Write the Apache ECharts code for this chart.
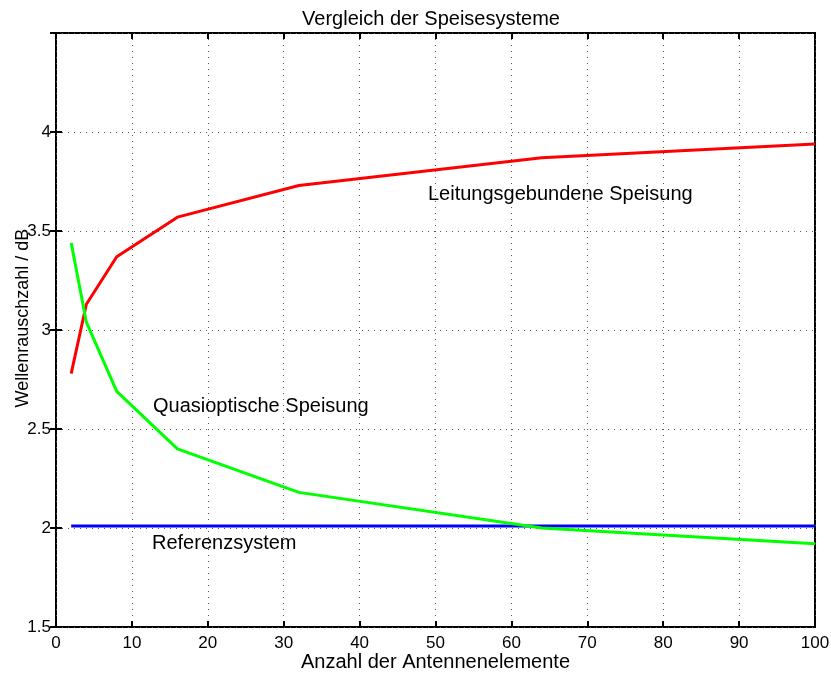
<!DOCTYPE html>
<html><head><meta charset="utf-8">
<script src="https://cdn.jsdelivr.net/npm/echarts@6/dist/echarts.min.js"></script>
<style>html,body{margin:0;padding:0;background:#fff}#c{width:831px;height:673px}</style>
</head><body><div id="c"></div>
<script>
const xValues = [2, 4, 8, 16, 32, 64, 100];
const leitung = [2.78, 3.13, 3.37, 3.57, 3.73, 3.87, 3.94];
const quasi = [3.44, 3.04, 2.69, 2.40, 2.18, 2.00, 1.92];
const referenz = [2.01, 2.01, 2.01, 2.01, 2.01, 2.01, 2.01];
const titleText = 'Vergleich der Speisesysteme';
const xName = 'Anzahl der Antennenelemente';
const yName = 'Wellenrauschzahl / dB';
const labels = ['Leitungsgebundene Speisung', 'Quasioptische Speisung', 'Referenzsystem'];

const pairs = a => xValues.map((x, i) => [x, a[i]]);
const font = 'Liberation Sans, Arial, sans-serif';
const chart = echarts.init(document.getElementById('c'));
const gridLine = {show: true, lineStyle: {color: '#555', type: [1, 5], width: 1}};
const tick = {show: true, inside: true, length: 6, lineStyle: {color: '#000', width: 2}};
chart.setOption({
  animation: false,
  title: {text: titleText, left: 426, top: 4, textAlign: 'center',
    textStyle: {fontFamily: font, fontSize: 20, fontWeight: 'normal', color: '#000'}},
  grid: {left: 56, right: 16, top: 33, bottom: 46, show: true, borderColor: '#000', borderWidth: 2,
    outerBoundsMode: 'none', containLabel: false},
  xAxis: [{
    type: 'value', min: 0, max: 100, interval: 10,
    axisLine: {show: false}, axisTick: tick,
    axisLabel: {fontFamily: font, fontSize: 17, color: '#000', margin: 8},
    splitLine: gridLine,
    name: xName, nameLocation: 'middle', nameGap: 25, nameMoveOverlap: false,
    nameTextStyle: {fontFamily: font, fontSize: 20, color: '#000'}
  }, {
    type: 'value', min: 0, max: 100, interval: 10, position: 'top',
    axisLine: {show: false}, axisTick: tick,
    axisLabel: {show: false}, splitLine: {show: false}
  }],
  yAxis: [{
    type: 'value', min: 1.5, max: 4.5, interval: 0.5,
    axisLine: {show: false}, axisTick: tick,
    axisLabel: {fontFamily: font, fontSize: 17, color: '#000', margin: 5, showMaxLabel: false},
    splitLine: gridLine,
    name: yName, nameLocation: 'middle', nameGap: 24, nameRotate: 90, nameMoveOverlap: false,
    nameTextStyle: {fontFamily: font, fontSize: 18, color: '#000', padding: [0, 0, 0, 24]}
  }, {
    type: 'value', min: 1.5, max: 4.5, interval: 0.5, position: 'right',
    axisLine: {show: false}, axisTick: tick,
    axisLabel: {show: false}, splitLine: {show: false}
  }],
  series: [
    {type: 'line', data: pairs(referenz), showSymbol: false, lineStyle: {color: '#0000ff', width: 3}, z: 2},
    {type: 'line', data: pairs(leitung), showSymbol: false, lineStyle: {color: '#ff0000', width: 3}, z: 3},
    {type: 'line', data: pairs(quasi), showSymbol: false, lineStyle: {color: '#00ff00', width: 3}, z: 4}
  ],
  graphic: [
    {type: 'text', left: 428, top: 184, style: {text: labels[0], font: '20px ' + font, fill: '#000'}},
    {type: 'text', left: 153, top: 396, style: {text: labels[1], font: '20px ' + font, fill: '#000'}},
    {type: 'text', left: 152, top: 533, style: {text: labels[2], font: '20px ' + font, fill: '#000'}}
  ]
});
</script></body></html>
